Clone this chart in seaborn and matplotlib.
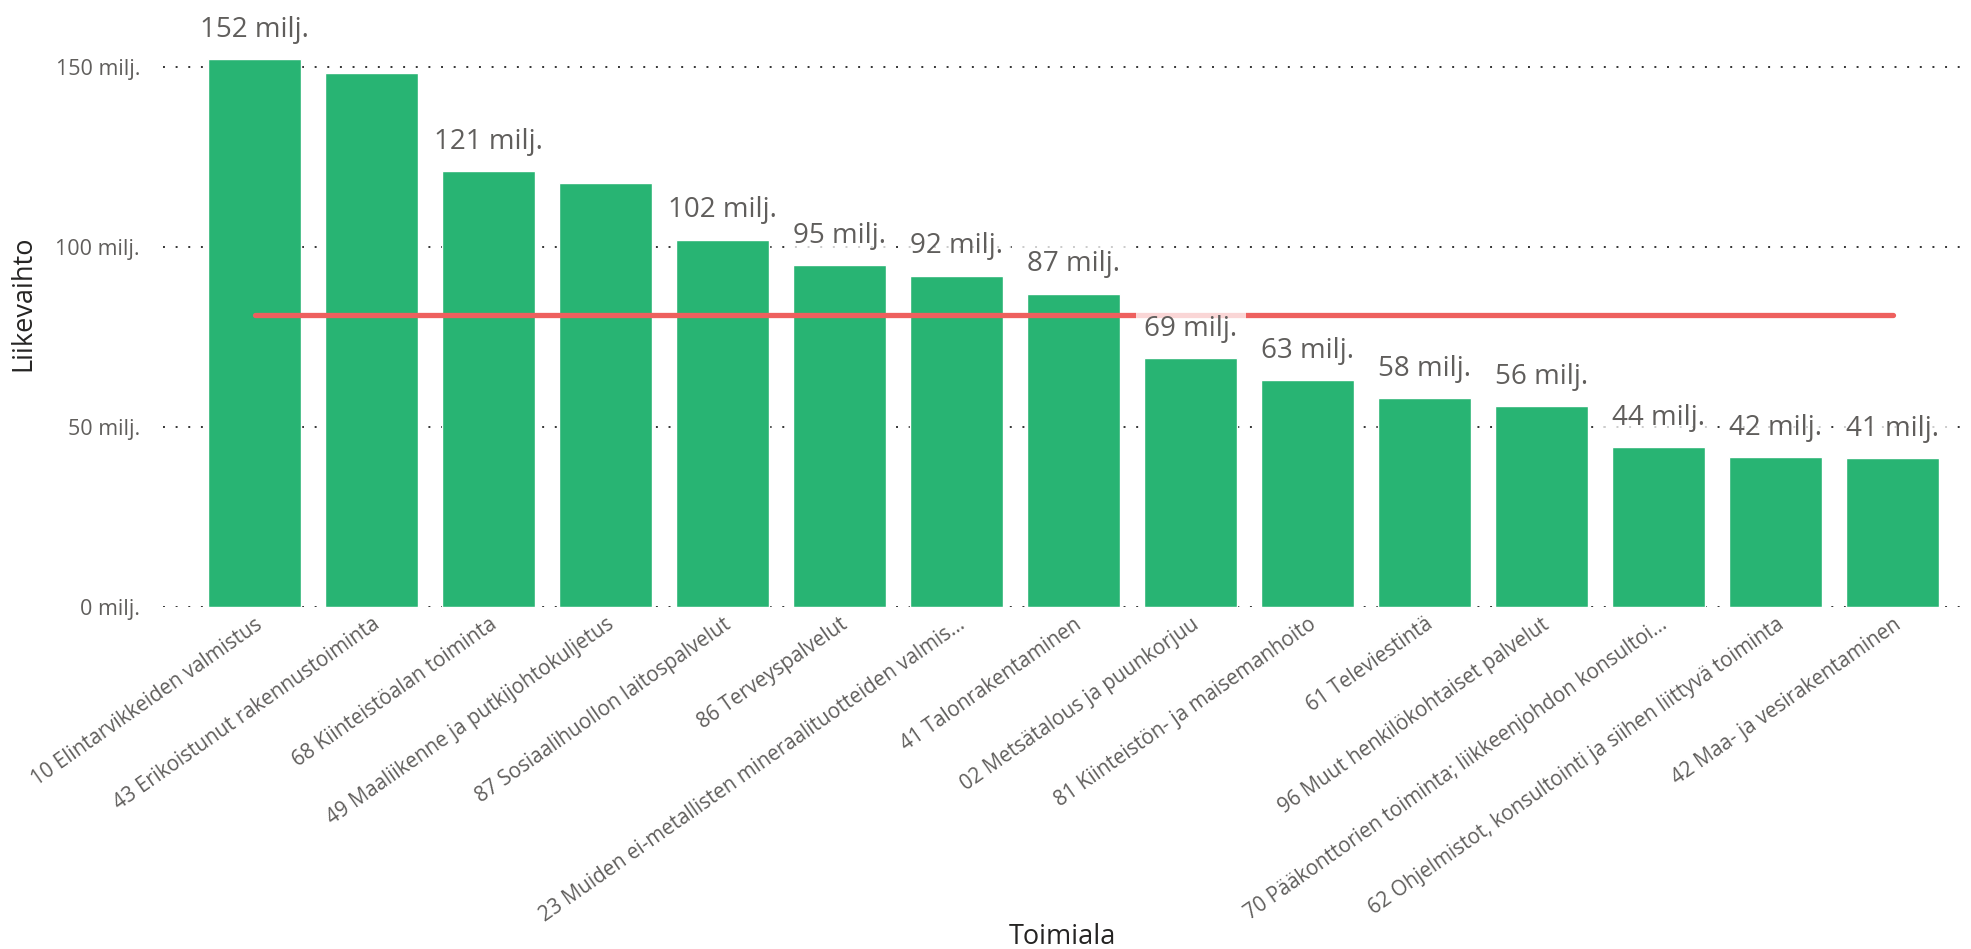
import matplotlib
matplotlib.use("Agg")
import matplotlib.pyplot as plt
import seaborn as sns
import pandas as pd

# ---- data ----
categories = [
    "10 Elintarvikkeiden valmistus",
    "43 Erikoistunut rakennustoiminta",
    "68 Kiinteistöalan toiminta",
    "49 Maaliikenne ja putkijohtokuljetus",
    "87 Sosiaalihuollon laitospalvelut",
    "86 Terveyspalvelut",
    "23 Muiden ei-metallisten mineraalituotteiden valmis...",
    "41 Talonrakentaminen",
    "02 Metsätalous ja puunkorjuu",
    "81 Kiinteistön- ja maisemanhoito",
    "61 Televiestintä",
    "96 Muut henkilökohtaiset palvelut",
    "70 Pääkonttorien toiminta; liikkeenjohdon konsultoi...",
    "62 Ohjelmistot, konsultointi ja siihen liittyvä toiminta",
    "42 Maa- ja vesirakentaminen",
]
values = [152.2, 148.2, 121.0, 117.9, 102.0, 95.0, 92.0, 87.0, 69.2, 63.0, 58.0, 55.8, 44.4, 41.7, 41.4]
value_labels = ["152 milj.", None, "121 milj.", None, "102 milj.", "95 milj.", "92 milj.",
                "87 milj.", "69 milj.", "63 milj.", "58 milj.", "56 milj.", "44 milj.",
                "42 milj.", "41 milj."]
average_value = 81.0
y_ticks = [0, 50, 100, 150]
y_tick_labels = ["0 milj.", "50 milj.", "100 milj.", "150 milj."]

df = pd.DataFrame({"Toimiala": categories, "Liikevaihto": values})

sns.set_theme(style="white")
plt.rcParams["font.family"] = ["Open Sans", "DejaVu Sans"]

fig = plt.figure(figsize=(19.71, 9.49), dpi=100)
ax = fig.add_axes([0.0827, 0.3604, 0.9123, 0.6396])

bar_color = "#28B473"
sns.barplot(data=df, x="Toimiala", y="Liikevaihto", color=bar_color, saturation=1,
            width=0.795, ax=ax, zorder=2)

# average line
ax.plot(categories, [average_value] * len(categories), color="#EE605E", lw=3.8,
        solid_capstyle="round", zorder=3)

# grid
for t in y_ticks:
    ax.axhline(t, color="#333333", lw=1.4, ls=(0, (1, 5.5)), zorder=1)

ax.set_ylim(0, 168.6)
ax.set_xlim(-0.782, 14.585)
ax.set_yticks(y_ticks)
ax.set_yticklabels(y_tick_labels, fontsize=15.5, color="#605E5C")
ax.tick_params(axis="y", length=0, pad=16.5)
ax.tick_params(axis="x", length=0, pad=5)
ax.set_xticks(range(len(categories)))
ax.set_xticklabels(categories, rotation=35, ha="right", rotation_mode="anchor",
                   fontsize=14.8, color="#605E5C")
for s in ax.spines.values():
    s.set_visible(False)

ax.set_ylabel("Liikevaihto", fontsize=19.5, color="#252423", fontweight="medium")
ax.set_xlabel("Toimiala", fontsize=19.5, color="#252423", fontweight="medium")
ax.yaxis.set_label_coords(-0.070, 0.5)
ax.xaxis.set_label_coords(0.5, -0.52)

# data labels
for i, (v, lab) in enumerate(zip(values, value_labels)):
    if lab is None:
        continue
    ax.annotate(lab, (i, v), xytext=(0, 11), textcoords="offset points",
                ha="center", va="bottom", fontsize=20, color="#605E5C",
                bbox=dict(boxstyle="square,pad=0.3", fc="white", ec="none", alpha=0.75),
                zorder=5, annotation_clip=False)

fig.savefig("out.png", dpi=100)
